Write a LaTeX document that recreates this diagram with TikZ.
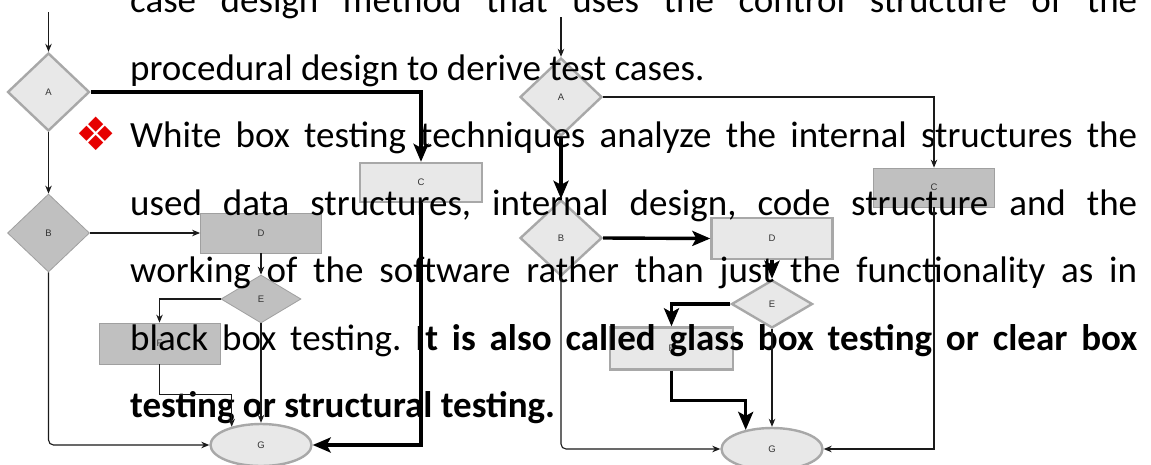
\documentclass[tikz,border=0pt]{standalone}
\usepackage{fontspec}
\setmainfont{Carlito}
\newfontfamily\labelfont{Liberation Sans}
\newfontfamily\symfont{DejaVu Sans}
\usetikzlibrary{shapes.geometric,arrows.meta}
\frenchspacing

\definecolor{lightfill}{HTML}{E8E8E8}
\definecolor{darkfill}{HTML}{C0C0C0}
\definecolor{edgegray}{HTML}{A8A8A8}
\definecolor{darkedge}{HTML}{A0A0A0}
\definecolor{linecol}{HTML}{1A1A1A}
\definecolor{bulletred}{HTML}{E60000}

\tikzset{
  lbl/.style={font=\labelfont\fontsize{9.5}{10}\selectfont, text=black!80, inner sep=0pt},
  lightdia/.style={lbl, diamond, draw=edgegray, line width=2.4pt, fill=lightfill,
                   minimum width=82pt, minimum height=78pt},
  darkdia/.style={lbl, diamond, draw=darkedge, line width=0.8pt, fill=darkfill,
                  minimum width=82pt, minimum height=78pt},
  lightbox/.style={lbl, rectangle, draw=edgegray, line width=2.4pt, fill=lightfill,
                   minimum width=121pt, minimum height=40pt},
  darkbox/.style={lbl, rectangle, draw=darkedge, line width=0.8pt, fill=darkfill,
                  minimum width=121pt, minimum height=40pt},
  endell/.style={lbl, ellipse, draw=edgegray, line width=2.4pt, fill=lightfill,
                 minimum width=101pt, minimum height=42pt},
  thinarrow/.style={draw=linecol, line width=1.1pt, -{Stealth[length=8pt,width=6.5pt]}},
  thickarrow/.style={draw=black, line width=3.4pt, -{Stealth[length=18pt,width=15pt,inset=4pt]}},
  txt/.style={anchor=base west, inner sep=0pt, font=\fontsize{37}{37}\selectfont},
}

\begin{document}
\begin{tikzpicture}[x=1pt,y=-1pt]
\useasboundingbox (0,0) rectangle (1151,464);
\fill[white] (0,0) rectangle (1151,464);

% ---------- left flow graph (path A-C-G highlighted) ----------
\node[lightdia] (lA) at (48.5,92) {A};
\node[darkdia]  (lB) at (48.5,233) {B};
\node[lightbox, minimum width=122pt, minimum height=39pt] (lC) at (421,182.5) {C};
\node[darkbox]  (lD) at (261,233) {D};
\node[darkdia, minimum width=80pt, minimum height=48pt] (lE) at (261,299) {E};
\node[darkbox, minimum height=41pt] (lF) at (159.5,343.5) {F};
\node[endell]   (lG) at (261,445) {G};
\coordinate (lIn) at (48.5,12);

% ---------- right flow graph (path A-B-D-E-F-G highlighted) ----------
\node[lightdia] (rA) at (561,97) {A};
\node[lightdia, minimum height=76pt] (rB) at (561,238) {B};
\node[darkbox, minimum height=39pt] (rC) at (934,187.5) {C};
\node[lightbox, minimum height=41pt] (rD) at (772,238.5) {D};
\node[lightdia, minimum width=81pt, minimum height=48pt] (rE) at (772,304) {E};
\node[lightbox, minimum width=123pt, minimum height=42pt] (rF) at (671.5,348.5) {F};
\node[endell]   (rG) at (772,449) {G};
\coordinate (rIn) at (561,17);

% ---------- body text ----------
\node[font=\symfont\fontsize{46}{46}\selectfont, text=bulletred, inner sep=0pt] (bul) at (96,134) {❖};
\node[txt] (t1) at (130,12.5) {\makebox[1007pt][s]{case design method that uses the control structure of the}};
\node[txt] (t2) at (130,80) {procedural design to derive test cases.};
\node[txt] (t3) at (130,147.5) {\makebox[1007pt][s]{White box testing techniques analyze the internal structures the}};
\node[txt] (t4) at (130,215) {\makebox[1007pt][s]{used data structures, internal design, code structure and the}};
\node[txt] (t5) at (130,282.5) {\makebox[1007pt][s]{working of the software rather than just the functionality as in}};
\node[txt] (t6) at (130,350) {\makebox[1007pt][s]{black box testing. \textbf{It is also called glass box testing or clear box}}};
\node[txt] (t7) at (130,417.5) {\textbf{testing or structural testing.}};

% ---------- left connectors ----------
\draw[thinarrow] (lIn) -- (lA.north);
\draw[thickarrow] (lA.east) -| (lC.north);
\draw[thinarrow] (lA.south) -- (lB.north);
\draw[thinarrow] (lB.east) -- (lD.west);
\draw[thinarrow] (lD.south) -- (lE.north);
\draw[thinarrow] (lE.west) -| (lF.north);
\draw[thinarrow] (lF.south) -- ++(0,30) -| (lG.148);
\draw[thinarrow] (lE.south) -- (lG.north);
\draw[thinarrow, rounded corners=5pt] (lB.south) |- (lG.west);
\draw[thickarrow] (lC.south) |- (lG.east);

% ---------- right connectors ----------
\draw[thinarrow] (rIn) -- (rA.north);
\draw[thinarrow] (rA.east) -| (rC.north);
\draw[thickarrow] (rA.south) -- (rB.north);
\draw[thickarrow] (rB.east) -- (rD.west);
\draw[thickarrow] (rD.south) -- (rE.north);
\draw[thickarrow] (rE.west) -| (rF.north);
\draw[thickarrow] (rF.south) -- ++(0,30) -| (rG.144);
\draw[thinarrow] (rE.south) -- (rG.north);
\draw[thinarrow, rounded corners=5pt] (rB.south) |- (rG.west);
\draw[thinarrow] (rC.south) |- (rG.east);
\end{tikzpicture}
\end{document}
